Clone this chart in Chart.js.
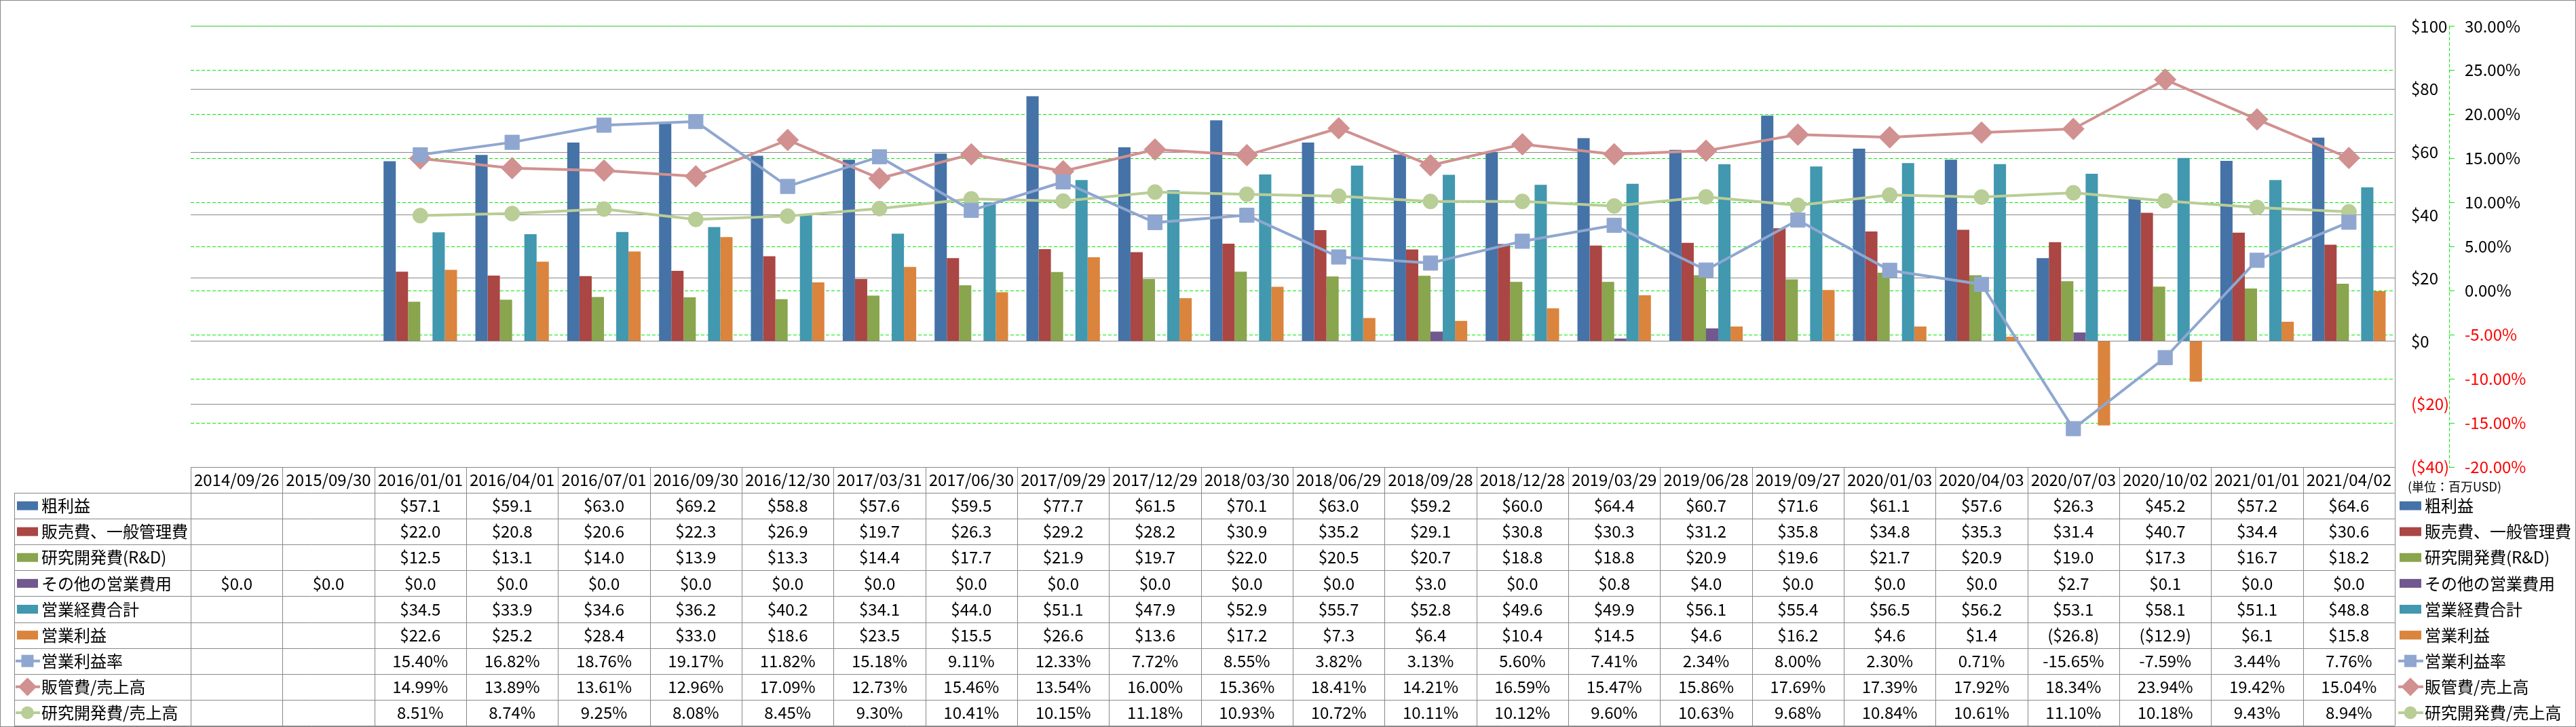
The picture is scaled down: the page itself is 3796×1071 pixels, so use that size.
<!DOCTYPE html>
<html>
<head>
<meta charset="utf-8">
<title>営業利益・経費推移</title>
<script src="https://cdn.jsdelivr.net/npm/chart.js@4.4.0/dist/chart.umd.min.js"></script>
<style>
    html, body { margin: 0; padding: 0; background: #ffffff; }
    #wrap { width: 3796px; height: 1071px; position: relative; }
</style>
</head>
<body>
<div id="wrap"><canvas id="mainChart"></canvas></div>
<script>
// ===== Data (単位: 百万USD) =====
const periods = [
    '2014/09/26', '2015/09/30', '2016/01/01', '2016/04/01', '2016/07/01', '2016/09/30',
    '2016/12/30', '2017/03/31', '2017/06/30', '2017/09/29', '2017/12/29', '2018/03/30',
    '2018/06/29', '2018/09/28', '2018/12/28', '2019/03/29', '2019/06/28', '2019/09/27',
    '2020/01/03', '2020/04/03', '2020/07/03', '2020/10/02', '2021/01/01', '2021/04/02'
];

const grossProfit = [null, null, 57.1, 59.1, 63.0, 69.2, 58.8, 57.6, 59.5, 77.7, 61.5, 70.1,
    63.0, 59.2, 60.0, 64.4, 60.7, 71.6, 61.1, 57.6, 26.3, 45.2, 57.2, 64.6];
const sgaExpense = [null, null, 22.0, 20.8, 20.6, 22.3, 26.9, 19.7, 26.3, 29.2, 28.2, 30.9,
    35.2, 29.1, 30.8, 30.3, 31.2, 35.8, 34.8, 35.3, 31.4, 40.7, 34.4, 30.6];
const rdExpense = [null, null, 12.5, 13.1, 14.0, 13.9, 13.3, 14.4, 17.7, 21.9, 19.7, 22.0,
    20.5, 20.7, 18.8, 18.8, 20.9, 19.6, 21.7, 20.9, 19.0, 17.3, 16.7, 18.2];
const otherExpense = [0.0, 0.0, 0.0, 0.0, 0.0, 0.0, 0.0, 0.0, 0.0, 0.0, 0.0, 0.0,
    0.0, 3.0, 0.0, 0.8, 4.0, 0.0, 0.0, 0.0, 2.7, 0.1, 0.0, 0.0];
const totalOpex = [null, null, 34.5, 33.9, 34.6, 36.2, 40.2, 34.1, 44.0, 51.1, 47.9, 52.9,
    55.7, 52.8, 49.6, 49.9, 56.1, 55.4, 56.5, 56.2, 53.1, 58.1, 51.1, 48.8];
const operatingIncome = [null, null, 22.6, 25.2, 28.4, 33.0, 18.6, 23.5, 15.5, 26.6, 13.6, 17.2,
    7.3, 6.4, 10.4, 14.5, 4.6, 16.2, 4.6, 1.4, -26.8, -12.9, 6.1, 15.8];

// percentages
const operatingMargin = [null, null, 15.40, 16.82, 18.76, 19.17, 11.82, 15.18, 9.11, 12.33, 7.72, 8.55,
    3.82, 3.13, 5.60, 7.41, 2.34, 8.00, 2.30, 0.71, -15.65, -7.59, 3.44, 7.76];
const sgaRatio = [null, null, 14.99, 13.89, 13.61, 12.96, 17.09, 12.73, 15.46, 13.54, 16.00, 15.36,
    18.41, 14.21, 16.59, 15.47, 15.86, 17.69, 17.39, 17.92, 18.34, 23.94, 19.42, 15.04];
const rdRatio = [null, null, 8.51, 8.74, 9.25, 8.08, 8.45, 9.30, 10.41, 10.15, 11.18, 10.93,
    10.72, 10.11, 10.12, 9.60, 10.63, 9.68, 10.84, 10.61, 11.10, 10.18, 9.43, 8.94];

// axis ranges
const usdTicks = { min: -40, max: 100, step: 20 };
const pctTicks = { min: -20, max: 30, step: 5 };

// ===== Styles =====
const FONT = '"Noto Sans CJK JP", "Noto Sans", sans-serif';
const GRID_GRAY = '#888888';
const GRID_GREEN = '#00ee00';
const GREEN_DASH = [5, 3];

const money = v => v == null ? '' : (v < 0 ? '($' + (-v).toFixed(1) + ')' : '$' + v.toFixed(1));
const pct = v => v == null ? '' : v.toFixed(2) + '%';

// rows of the data table / legend
const tableRows = [
    { label: '粗利益', data: grossProfit, color: '#4572A7', kind: 'bar', fmt: money },
    { label: '販売費、一般管理費', data: sgaExpense, color: '#AA4643', kind: 'bar', fmt: money },
    { label: '研究開発費(R&D)', data: rdExpense, color: '#89A54E', kind: 'bar', fmt: money },
    { label: 'その他の営業費用', data: otherExpense, color: '#71588F', kind: 'bar', fmt: money },
    { label: '営業経費合計', data: totalOpex, color: '#4198AF', kind: 'bar', fmt: money },
    { label: '営業利益', data: operatingIncome, color: '#DB843D', kind: 'bar', fmt: money },
    { label: '営業利益率', data: operatingMargin, color: '#8FA7D0', kind: 'line', marker: 'rect', fmt: pct },
    { label: '販管費/売上高', data: sgaRatio, color: '#D09190', kind: 'line', marker: 'rectRot', fmt: pct },
    { label: '研究開発費/売上高', data: rdRatio, color: '#B9CD96', kind: 'line', marker: 'circle', fmt: pct }
];

const markerRadius = { rect: 15, rectRot: 16, circle: 11 };

function drawMarker(ctx, style, x, y, scale) {
    const r = markerRadius[style] * scale;
    ctx.beginPath();
    if (style === 'rect') {
        const s = r * Math.SQRT1_2;
        ctx.rect(x - s, y - s, 2 * s, 2 * s);
    } else if (style === 'rectRot') {
        ctx.moveTo(x, y - r);
        ctx.lineTo(x + r, y);
        ctx.lineTo(x, y + r);
        ctx.lineTo(x - r, y);
        ctx.closePath();
    } else {
        ctx.arc(x, y, r, 0, Math.PI * 2);
    }
    ctx.fill();
}

function drawKey(ctx, row, x0, x1, y) {
    ctx.save();
    if (row.kind === 'bar') {
        ctx.fillStyle = row.color;
        ctx.fillRect(x0, y - 6.5, x1 - x0, 13);
    } else {
        ctx.strokeStyle = row.color;
        ctx.lineWidth = 4;
        ctx.beginPath();
        ctx.moveTo(x0 - 2, y);
        ctx.lineTo(x1 + 3, y);
        ctx.stroke();
        ctx.fillStyle = row.color;
        drawMarker(ctx, row.marker, (x0 + x1) / 2, y, 0.85);
    }
    ctx.restore();
}

const px = v => Math.round(v) + 0.5;

// background, data table and legend
const dataTablePlugin = {
    id: 'dataTable',
    beforeDraw(chart) {
        const { ctx, width, height } = chart;
        ctx.save();
        ctx.fillStyle = '#ffffff';
        ctx.fillRect(0, 0, width, height);
        ctx.restore();
    },
    afterDraw(chart) {
        const { ctx, chartArea, width, height } = chart;
        const xScale = chart.scales.x;
        const pctScale = chart.scales.y1;
        const n = periods.length;
        const colW = (chartArea.right - chartArea.left) / n;
        const top = chartArea.bottom;
        const headH = 38;
        const bottom = height - 2;
        const rowH = (bottom - top - headH) / tableRows.length;
        const labelLeft = 21;

        ctx.save();

        // dashed secondary axis line
        ctx.strokeStyle = GRID_GREEN;
        ctx.lineWidth = 1;
        ctx.setLineDash(GREEN_DASH);
        ctx.beginPath();
        ctx.moveTo(px(pctScale.left), chartArea.top);
        ctx.lineTo(px(pctScale.left), chartArea.bottom);
        ctx.stroke();
        ctx.setLineDash([]);

        // table grid
        ctx.strokeStyle = GRID_GRAY;
        ctx.lineWidth = 1;
        ctx.beginPath();
        ctx.moveTo(chartArea.left, px(top));
        ctx.lineTo(chartArea.right, px(top));
        for (let r = 0; r <= tableRows.length; r++) {
            const y = px(top + headH + r * rowH);
            ctx.moveTo(labelLeft, y);
            ctx.lineTo(chartArea.right, y);
        }
        for (let c = 0; c <= n; c++) {
            const x = px(chartArea.left + c * colW);
            ctx.moveTo(x, top);
            ctx.lineTo(x, bottom);
        }
        ctx.moveTo(px(labelLeft), top + headH);
        ctx.lineTo(px(labelLeft), bottom);
        ctx.moveTo(px(chartArea.right), chartArea.top);
        ctx.lineTo(px(chartArea.right), bottom);
        ctx.stroke();

        // header dates
        ctx.fillStyle = '#000000';
        ctx.font = '24px ' + FONT;
        ctx.textAlign = 'center';
        ctx.textBaseline = 'middle';
        periods.forEach((p, i) => {
            ctx.fillText(p, xScale.getPixelForValue(i), top + headH / 2);
        });

        // values
        tableRows.forEach((row, r) => {
            const cy = top + headH + (r + 0.5) * rowH;
            row.data.forEach((v, i) => {
                const txt = row.fmt(v);
                if (txt) ctx.fillText(txt, xScale.getPixelForValue(i), cy);
            });
        });

        // row headers (left) and legend (right)
        ctx.textAlign = 'left';
        tableRows.forEach((row, r) => {
            const cy = top + headH + (r + 0.5) * rowH;
            drawKey(ctx, row, 25, 56, cy);
            ctx.fillStyle = '#000000';
            ctx.fillText(row.label, 61, cy);
            drawKey(ctx, row, 3536, 3568, cy);
            ctx.fillStyle = '#000000';
            ctx.fillText(row.label, 3573, cy);
        });

        // unit note
        ctx.font = '18px ' + FONT;
        ctx.fillText('(単位：百万USD)', 3548, top + 29);

        // outer border
        ctx.strokeStyle = GRID_GRAY;
        ctx.lineWidth = 1;
        ctx.strokeRect(0.5, 0.5, width - 1, height - 1);
        ctx.restore();
    }
};

const barDatasets = tableRows.filter(r => r.kind === 'bar').map(r => ({
    type: 'bar',
    label: r.label,
    data: r.data,
    backgroundColor: r.color,
    borderWidth: 0,
    yAxisID: 'y',
    order: 1,
    categoryPercentage: 0.8,
    barPercentage: 1.0
}));

const lineDatasets = tableRows.filter(r => r.kind === 'line').map(r => ({
    type: 'line',
    label: r.label,
    data: r.data,
    borderColor: r.color,
    backgroundColor: r.color,
    borderWidth: 4,
    tension: 0,
    pointStyle: r.marker,
    pointRadius: markerRadius[r.marker],
    pointBackgroundColor: r.color,
    pointBorderColor: r.color,
    pointBorderWidth: 1,
    yAxisID: 'y1',
    order: 0
}));

new Chart(document.getElementById('mainChart'), {
    type: 'bar',
    data: {
        labels: periods,
        datasets: [...barDatasets, ...lineDatasets]
    },
    options: {
        responsive: true,
        maintainAspectRatio: false,
        animation: false,
        layout: {
            padding: { left: 281, top: 15, right: 0, bottom: 383 }
        },
        plugins: {
            legend: { display: false },
            tooltip: { enabled: false }
        },
        scales: {
            x: {
                display: false
            },
            y: {
                position: 'right',
                weight: 0,
                min: usdTicks.min,
                max: usdTicks.max,
                afterFit: scale => { scale.width = 80; },
                grid: {
                    color: GRID_GRAY,
                    lineWidth: 1,
                    drawTicks: false
                },
                border: { display: true, color: GRID_GRAY, width: 1 },
                ticks: {
                    stepSize: usdTicks.step,
                    padding: 24,
                    font: { family: FONT, size: 24 },
                    color: ctx => ctx.tick.value < 0 ? '#ff0000' : '#000000',
                    callback: v => v < 0 ? '($' + (-v) + ')' : '$' + v
                }
            },
            y1: {
                position: 'right',
                weight: 1,
                min: pctTicks.min,
                max: pctTicks.max,
                afterFit: scale => { scale.width = 187; },
                grid: {
                    color: GRID_GREEN,
                    lineWidth: 1,
                    drawTicks: true,
                    tickLength: 8,
                    tickColor: GRID_GREEN
                },
                border: { display: false, dash: GREEN_DASH },
                ticks: {
                    stepSize: pctTicks.step,
                    padding: 15,
                    font: { family: FONT, size: 24 },
                    color: ctx => ctx.tick.value < 0 ? '#ff0000' : '#000000',
                    callback: v => v.toFixed(2) + '%'
                }
            }
        }
    },
    plugins: [dataTablePlugin]
});
</script>
</body>
</html>
